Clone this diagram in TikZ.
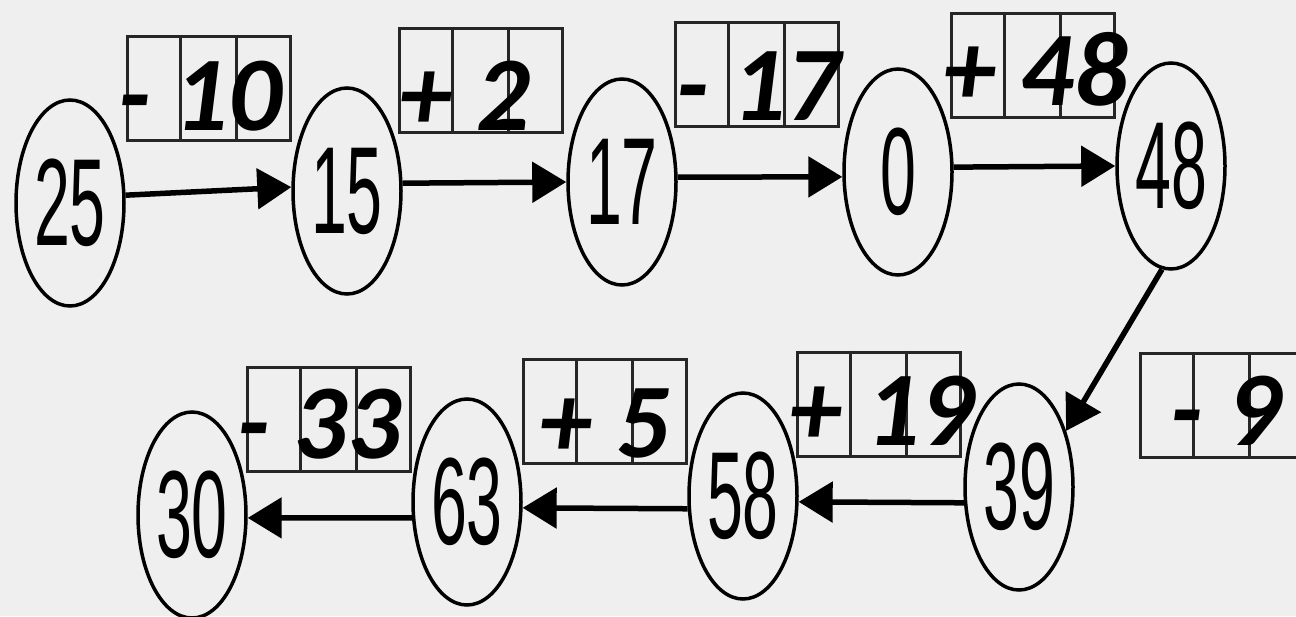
\documentclass[tikz,border=0pt]{standalone}
\usepackage{fontspec}
\usepackage{graphicx}
\usetikzlibrary{shapes.geometric,arrows.meta,calc}
\newfontfamily\labfont{Carlito}
\newfontfamily\numfont{Liberation Sans}
\definecolor{bg}{RGB}{239,239,239}
\newcommand\cnum[1]{\scalebox{0.52}[1]{\numfont\fontsize{124}{124}\selectfont #1}}
\begin{document}
\begin{tikzpicture}[x=1pt,y=-1pt,
  num/.style={ellipse,draw=black,line width=3.5pt,inner sep=0pt,minimum width=108pt,minimum height=206pt},
  flow/.style={line width=5.5pt,-{Triangle[length=34pt,width=40pt]}},
  cellbox/.style={rectangle,draw=black!85,line width=3pt,inner sep=0pt,minimum width=163pt,minimum height=104pt},
  divider/.style={draw=black!85,line width=3pt},
  lab/.style={font=\labfont\bfseries\itshape\fontsize{106}{106}\selectfont,inner sep=0pt,anchor=base}]
\useasboundingbox (0,0) rectangle (1296,616);
\clip (0,0) rectangle (1296,616);
\fill[bg] (0,0) rectangle (1296,616);
% cell boxes
\foreach \n/\cx/\cy in {b1/208.5/88, b2/480.5/80, b3/756.5/74.5, b4/1032.5/65.5,
                        b5/1221.5/405, b6/878.5/404, b7/604.5/411.5, b8/328.5/419.5}{
  \node[cellbox] (\n) at (\cx,\cy) {};
  \draw[divider] ($(\n.north west)!1/3!(\n.north east)$) -- ($(\n.south west)!1/3!(\n.south east)$);
  \draw[divider] ($(\n.north west)!2/3!(\n.north east)$) -- ($(\n.south west)!2/3!(\n.south east)$);
}
% circles
\node[num] (c25) at (70,203) {\cnum{25}};
\node[num] (c15) at (347,191) {\cnum{15}};
\node[num] (c17) at (622,182) {\cnum{17}};
\node[num] (c0) at (898,172) {\cnum{0}};
\node[num] (c48) at (1171,166) {\cnum{48}};
\node[num] (c39) at (1019,487) {\cnum{39}};
\node[num] (c58) at (743,496) {\cnum{58}};
\node[num] (c63) at (467,502) {\cnum{63}};
\node[num] (c30) at (192,515) {\cnum{30}};
% arrows
\draw[flow] (c25.8) -- (c15.176);
\draw[flow] (c15.8) -- (c17.180);
\draw[flow] (c17.5) -- (c0.185);
\draw[flow] (c0.5) -- (c48.180);
\draw[flow] (c48.265) -- (c39.50);
\draw[flow] (c39.196) -- (c58.354);
\draw[flow] (c58.193) -- (c63.354);
\draw[flow] (c63.196) -- (c30.357);
% labels
\node[lab] (l1) at (200,130) {- 10};
\node[lab] (l2) at (465,130) {+ 2};
\node[lab] (l3) at (758,120) {- 17};
\node[lab] (l4) at (1036,105) {+ 48};
\node[lab] (l5) at (1226,445) {- 9};
\node[lab] (l6) at (882,445) {+ 19};
\node[lab] (l7) at (605,457) {+ 5};
\node[lab] (l8) at (319,458) {- 33};
\end{tikzpicture}
\end{document}
